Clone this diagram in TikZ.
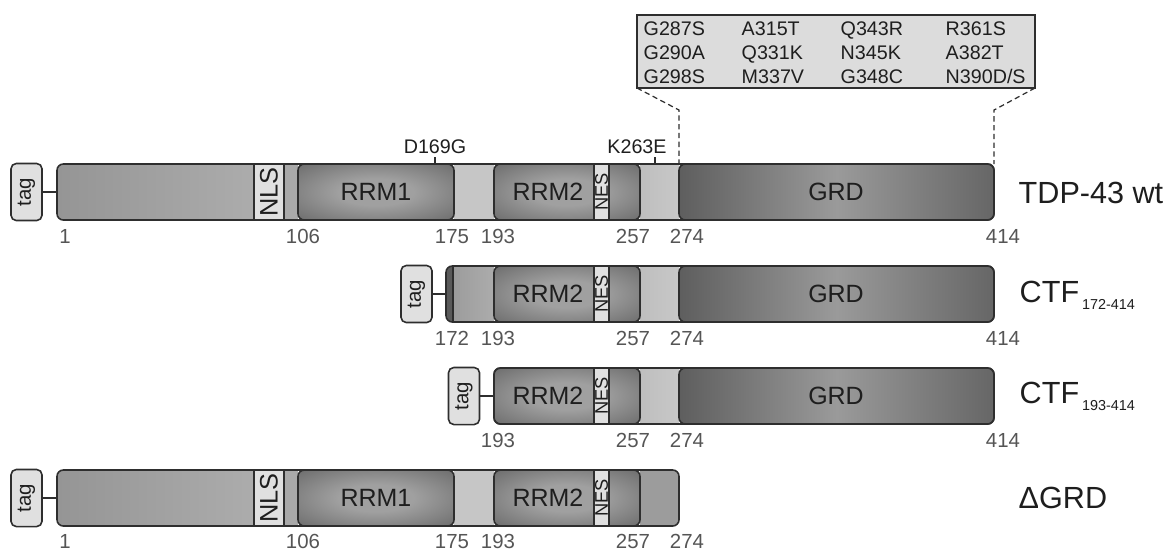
\documentclass[tikz,border=0pt]{standalone}
\usepackage{fontspec}
\setmainfont{Liberation Sans}
\definecolor{edge}{HTML}{2E2E2E}
\definecolor{boxfill}{HTML}{E0E0E0}
\definecolor{mutfill}{HTML}{DCDCDC}
\definecolor{numgray}{HTML}{555555}
\definecolor{txtdark}{HTML}{1E1E1E}
\definecolor{barL}{HTML}{959595}
\definecolor{barR}{HTML}{ACACAC}
\definecolor{barmid}{HTML}{A9A9A9}
\definecolor{gapA}{HTML}{C6C6C6}
\definecolor{gapB}{HTML}{BEBEBE}
\definecolor{gapC}{HTML}{C8C8C8}
\definecolor{endgap}{HTML}{9C9C9C}
\definecolor{rrmin}{HTML}{A0A0A0}
\definecolor{rrmout}{HTML}{4E4E4E}
\definecolor{rrmcorner}{HTML}{404040}
\definecolor{grdL}{HTML}{5E5E5E}
\definecolor{grdM}{HTML}{9A9A9A}
\definecolor{grdR}{HTML}{666666}
\definecolor{stripc}{HTML}{5A5A5A}
\pgfdeclareradialshading{rrmshade}{\pgfpoint{0bp}{0bp}}{color(0bp)=(rrmin); color(12bp)=(rrmin); color(50bp)=(rrmout); color(75bp)=(rrmcorner)}
\begin{document}
\begin{tikzpicture}[x=0.01cm,y=-0.01cm,
  outl/.style={draw=edge,line width=0.45pt},
  barshape/.style={outl,rounded corners=1.8pt},
  rrm/.style={outl,rounded corners=1.8pt,shading=rrmshade},
  grd/.style={outl,rounded corners=1.8pt,left color=grdL,right color=grdR,middle color=grdM},
  sigbox/.style={outl,fill=boxfill},
  tagbox/.style={outl,fill=boxfill,rounded corners=1.5pt,minimum width=0.31cm,minimum height=0.57cm,inner sep=0pt,font=\fontsize{5.8}{6}\selectfont,text=txtdark},
  num/.style={font=\fontsize{5.8}{6}\selectfont,text=numgray,anchor=base,inner sep=0pt},
  dom/.style={font=\fontsize{7.1}{8}\selectfont,text=txtdark,inner sep=0pt},
  mut/.style={font=\fontsize{5.6}{6}\selectfont,text=txtdark,anchor=base west,inner sep=0pt},
  pmut/.style={font=\fontsize{5.6}{6}\selectfont,text=txtdark,anchor=base,inner sep=0pt},
  lbl/.style={font=\fontsize{8.7}{10}\selectfont,text=txtdark,anchor=base west,inner sep=0pt},
  nesl/.style={font=\fontsize{5.2}{6}\selectfont,text=txtdark,inner sep=0pt,rotate=90},
  nlsl/.style={font=\fontsize{7.2}{8}\selectfont,text=txtdark,inner sep=0pt,rotate=90},
  conn/.style={draw=edge,line width=0.4pt},
  dashconn/.style={draw=edge,line width=0.35pt,dash pattern=on 1.5pt off 1pt}]
\useasboundingbox (0,0) rectangle (1173,550);

% ================= Row 1: TDP-43 wt (top 164, bottom 220)
\begin{scope}
\clip[rounded corners=1.8pt] (57,164) rectangle (994,220);
\shade[left color=barL,right color=barR] (57,164) rectangle (254,220);
\fill[barmid] (284,164) rectangle (298,220);
\fill[gapA] (454,164) rectangle (494,220);
\shade[left color=gapB,right color=gapC] (640,164) rectangle (679,220);
\end{scope}
\draw[sigbox] (254,164) rectangle (284,220);
\node[nlsl] (nls1) at (269,192) {NLS};
\draw[rrm] (298,164) rectangle (454,220);
\node[dom] (rrm1a) at (376,192) {RRM1};
\draw[rrm] (494,164) rectangle (640,220);
\draw[sigbox] (594,164) rectangle (609,220);
\node[nesl] (nes1) at (601.5,192) {NES};
\node[dom] (rrm2a) at (548,192) {RRM2};
\draw[grd] (679,164) rectangle (994,220);
\node[dom] (grd1) at (836,192) {GRD};
\draw[barshape] (57,164) rectangle (994,220);
\coordinate (b1) at (57,192);
\node[tagbox] (tag1) at (26.5,192) {\rotatebox{90}{tag}};
\draw[conn] (tag1.east) -- (b1);
\node[lbl] (name1) at (1018,203) {TDP-43 wt};
\foreach \xx/\tt in {65/1,303/106,452/175,498/193,633/257,687/274,1003/414}
  \node[num] at (\xx,243) {\tt};

% mutations above row 1
\coordinate (m169) at (435,164);
\coordinate (m169t) at (435,157);
\draw[conn] (m169) -- (m169t);
\node[pmut] (d169g) at (435,153) {D169G};
\coordinate (m263) at (655,164);
\coordinate (m263t) at (655,157);
\draw[conn] (m263) -- (m263t);
\node[pmut] (k263e) at (637,153) {K263E};

\draw[outl,fill=mutfill] (637,15) rectangle (1035,88);
\coordinate (mbL) at (637,88);
\coordinate (mbR) at (1035,88);
\coordinate (gL) at (679,164);
\coordinate (gR) at (994,164);
\draw[dashconn] (mbL) -- (679,110) -- (gL);
\draw[dashconn] (mbR) -- (994,110) -- (gR);
\node[mut] at (643,35) {G287S};
\node[mut] at (643,59) {G290A};
\node[mut] at (643,83) {G298S};
\node[mut] at (741,35) {A315T};
\node[mut] at (741,59) {Q331K};
\node[mut] at (741,83) {M337V};
\node[mut] at (840,35) {Q343R};
\node[mut] at (840,59) {N345K};
\node[mut] at (840,83) {G348C};
\node[mut] at (945,35) {R361S};
\node[mut] at (945,59) {A382T};
\node[mut] at (945,83) {N390D/S};

% ================= Row 2: CTF 172-414 (top 266, bottom 322)
\begin{scope}
\clip[rounded corners=1.8pt] (446,266) rectangle (994,322);
\fill[stripc] (446,266) rectangle (453,322);
\shade[left color=endgap,right color=barR] (453,266) rectangle (494,322);
\shade[left color=gapB,right color=gapC] (640,266) rectangle (679,322);
\end{scope}
\draw[conn] (453,266) -- (453,322);
\draw[rrm] (494,266) rectangle (640,322);
\draw[sigbox] (594,266) rectangle (609,322);
\node[nesl] (nes2) at (601.5,294) {NES};
\node[dom] (rrm2b) at (548,294) {RRM2};
\draw[grd] (679,266) rectangle (994,322);
\node[dom] (grd2) at (836,294) {GRD};
\draw[barshape] (446,266) rectangle (994,322);
\coordinate (b2) at (446,294);
\node[tagbox] (tag2) at (416.5,294) {\rotatebox{90}{tag}};
\draw[conn] (tag2.east) -- (b2);
\node[lbl] (name2) at (1019,302) {CTF\raisebox{-2pt}{\fontsize{4.1}{5}\selectfont\hspace{0.8pt}172-414}};
\foreach \xx/\tt in {452/172,498/193,633/257,687/274,1003/414}
  \node[num] at (\xx,345) {\tt};

% ================= Row 3: CTF 193-414 (top 368, bottom 424)
\begin{scope}
\clip[rounded corners=1.8pt] (494,368) rectangle (994,424);
\shade[left color=gapB,right color=gapC] (640,368) rectangle (679,424);
\end{scope}
\draw[rrm] (494,368) rectangle (640,424);
\draw[sigbox] (594,368) rectangle (609,424);
\node[nesl] (nes3) at (601.5,396) {NES};
\node[dom] (rrm2c) at (548,396) {RRM2};
\draw[grd] (679,368) rectangle (994,424);
\node[dom] (grd3) at (836,396) {GRD};
\draw[barshape] (494,368) rectangle (994,424);
\coordinate (b3) at (494,396);
\node[tagbox] (tag3) at (464,396) {\rotatebox{90}{tag}};
\draw[conn] (tag3.east) -- (b3);
\node[lbl] (name3) at (1019,403) {CTF\raisebox{-2pt}{\fontsize{4.1}{5}\selectfont\hspace{0.8pt}193-414}};
\foreach \xx/\tt in {498/193,633/257,687/274,1003/414}
  \node[num] at (\xx,447) {\tt};

% ================= Row 4: Delta GRD (top 470, bottom 526)
\begin{scope}
\clip[rounded corners=1.8pt] (57,470) rectangle (679,526);
\shade[left color=barL,right color=barR] (57,470) rectangle (254,526);
\fill[barmid] (284,470) rectangle (298,526);
\fill[gapA] (454,470) rectangle (494,526);
\fill[endgap] (640,470) rectangle (679,526);
\end{scope}
\draw[sigbox] (254,470) rectangle (284,526);
\node[nlsl] (nls4) at (269,498) {NLS};
\draw[rrm] (298,470) rectangle (454,526);
\node[dom] (rrm1d) at (376,498) {RRM1};
\draw[rrm] (494,470) rectangle (640,526);
\draw[sigbox] (594,470) rectangle (609,526);
\node[nesl] (nes4) at (601.5,498) {NES};
\node[dom] (rrm2d) at (548,498) {RRM2};
\draw[barshape] (57,470) rectangle (679,526);
\coordinate (b4) at (57,498);
\node[tagbox] (tag4) at (26.5,498) {\rotatebox{90}{tag}};
\draw[conn] (tag4.east) -- (b4);
\node[lbl] (name4) at (1018,508) {ΔGRD};
\foreach \xx/\tt in {65/1,303/106,452/175,498/193,633/257,687/274}
  \node[num] at (\xx,548) {\tt};
\end{tikzpicture}
\end{document}
